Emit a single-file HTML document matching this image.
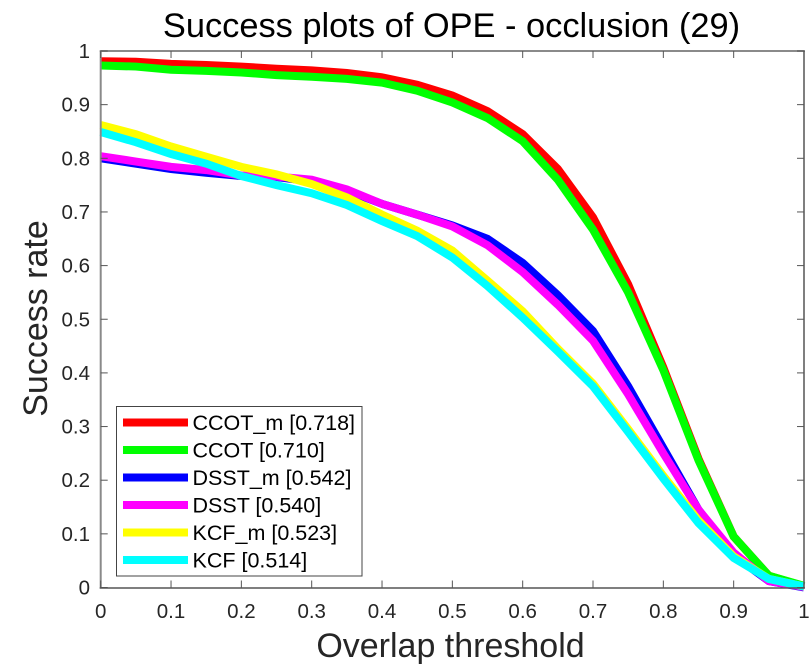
<!DOCTYPE html>
<html>
<head>
<meta charset="utf-8">
<title>Success plots of OPE - occlusion (29)</title>
<style>
html,body{margin:0;padding:0;background:#fff;width:811px;height:666px;overflow:hidden}
svg{display:block}
text{font-family:"Liberation Sans",Arial,sans-serif}
</style>
</head>
<body>
<svg id="chart" width="811" height="666" viewBox="0 0 811 666">
<rect x="0" y="0" width="811" height="666" fill="#fff"></rect>
<text x="451.5" y="37" font-size="34.4" text-anchor="middle" fill="#000">Success plots of OPE - occlusion (29)</text>
<text x="450.5" y="657" font-size="34" text-anchor="middle" fill="#262626">Overlap threshold</text>
<text transform="translate(47 318.5) rotate(-90)" font-size="34" text-anchor="middle" fill="#262626">Success rate</text>
<g id="series-layer"></g>
<g id="axes-layer"></g>
<g id="legend-layer"></g>
</svg>
<script>
const thresholds = [0,0.05,0.1,0.15,0.2,0.25,0.3,0.35,0.4,0.45,0.5,0.55,0.6,0.65,0.7,0.75,0.8,0.85,0.9,0.95,1];
const ccotM = [0.981,0.98,0.976,0.974,0.971,0.967,0.964,0.959,0.951,0.937,0.917,0.888,0.845,0.78,0.69,0.565,0.41,0.24,0.095,0.022,0.002];
const ccot = [0.973,0.971,0.965,0.963,0.96,0.955,0.952,0.948,0.941,0.926,0.904,0.875,0.832,0.76,0.667,0.55,0.405,0.237,0.095,0.022,0.003];
const dsstM = [0.8,0.79,0.78,0.773,0.767,0.765,0.757,0.74,0.715,0.695,0.675,0.65,0.605,0.545,0.478,0.375,0.26,0.145,0.06,0.012,0];
const dsst = [0.804,0.794,0.784,0.778,0.768,0.766,0.76,0.742,0.715,0.695,0.673,0.638,0.588,0.527,0.46,0.36,0.25,0.145,0.065,0.012,0.001];
const kcfM = [0.862,0.845,0.822,0.803,0.784,0.77,0.752,0.727,0.695,0.665,0.628,0.572,0.515,0.445,0.38,0.295,0.208,0.125,0.058,0.016,0.002];
const kcf = [0.849,0.83,0.808,0.79,0.767,0.75,0.735,0.713,0.683,0.655,0.615,0.562,0.503,0.44,0.375,0.29,0.203,0.12,0.055,0.016,0.002];
const seriesValues = [ccotM,ccot,dsstM,dsst,kcfM,kcf];
const seriesColors = ['#ff0000','#00ff00','#0000ff','#ff00ff','#ffff00','#00ffff'];
const seriesKeys = ['ccot-m','ccot','dsst-m','dsst','kcf-m','kcf'];
const legendLabels = ['CCOT_m [0.718]','CCOT [0.710]','DSST_m [0.542]','DSST [0.540]','KCF_m [0.523]','KCF [0.514]'];
const xTickValues = [0,0.1,0.2,0.3,0.4,0.5,0.6,0.7,0.8,0.9,1];
const yTickValues = [0,0.1,0.2,0.3,0.4,0.5,0.6,0.7,0.8,0.9,1];
const xTickLabels = ['0','0.1','0.2','0.3','0.4','0.5','0.6','0.7','0.8','0.9','1'];
const yTickLabels = ['0','0.1','0.2','0.3','0.4','0.5','0.6','0.7','0.8','0.9','1'];

const NS = 'http://www.w3.org/2000/svg';
const plot = {left:100.7, right:804, top:51, bottom:587.5};
function xScale(v){ return plot.left + v * (plot.right - plot.left); }
function yScale(v){ return plot.bottom - v * (plot.bottom - plot.top); }
function make(tag, attrs, parent){
  const el = document.createElementNS(NS, tag);
  for (const k in attrs) el.setAttribute(k, attrs[k]);
  parent.appendChild(el);
  return el;
}

const seriesLayer = document.getElementById('series-layer');
seriesValues.forEach(function(vals, i){
  const pts = vals.map(function(v, j){ return xScale(thresholds[j]).toFixed(2) + ',' + yScale(v).toFixed(2); }).join(' ');
  const line = make('polyline', {points:pts, fill:'none', stroke:seriesColors[i], 'stroke-width':8, 'stroke-linejoin':'miter'}, seriesLayer);
  
  
});

const axes = document.getElementById('axes-layer');
const tickLen = 7;
const frameTop = make('line', {x1:plot.left-1, x2:plot.right+1, y1:plot.top, y2:plot.top, stroke:'#8a8a8a', 'stroke-width':2}, axes);


const frameLeft = make('line', {x1:plot.left, x2:plot.left, y1:plot.top, y2:plot.bottom+1, stroke:'#8a8a8a', 'stroke-width':2}, axes);


const frameRight = make('line', {x1:plot.right, x2:plot.right, y1:plot.top, y2:plot.bottom+1, stroke:'#555', 'stroke-width':1.5}, axes);


const frameBottom = make('line', {x1:plot.left-1, x2:plot.right+1, y1:plot.bottom+0.5, y2:plot.bottom+0.5, stroke:'#555', 'stroke-width':1.5}, axes);



xTickValues.forEach(function(v, i){
  const x = xScale(v);
  const t1 = make('line', {x1:x, x2:x, y1:plot.bottom, y2:plot.bottom-tickLen, stroke:'#555', 'stroke-width':1}, axes);
  
  
  const t2 = make('line', {x1:x, x2:x, y1:plot.top, y2:plot.top+tickLen, stroke:'#555', 'stroke-width':1}, axes);
  
  
  const lab = make('text', {x:x, y:618, 'font-size':20.5, 'text-anchor':'middle', fill:'#262626'}, axes);
  lab.textContent = xTickLabels[i];
  
  
});
yTickValues.forEach(function(v, i){
  const y = yScale(v);
  const t1 = make('line', {x1:plot.left, x2:plot.left+tickLen, y1:y, y2:y, stroke:'#555', 'stroke-width':1}, axes);
  
  
  const t2 = make('line', {x1:plot.right, x2:plot.right-tickLen, y1:y, y2:y, stroke:'#555', 'stroke-width':1}, axes);
  
  
  const lab = make('text', {x:90, y:y+7, 'font-size':20.5, 'text-anchor':'end', fill:'#262626'}, axes);
  lab.textContent = yTickLabels[i];
  
  
});

const legend = document.getElementById('legend-layer');
const box = make('rect', {x:116.5, y:406.5, width:245.5, height:169.5, fill:'#fff', stroke:'#444', 'stroke-width':1}, legend);


legendLabels.forEach(function(label, i){
  const y = 422.5 + i * 27.5;
  const swatch = make('line', {x1:123, x2:188, y1:y, y2:y, stroke:seriesColors[i], 'stroke-width':8}, legend);
  
  
  const txt = make('text', {x:192.5, y:y+7.5, 'font-size':21.5, fill:'#000'}, legend);
  txt.textContent = label;
  
  
});
</script>
</body>
</html>
